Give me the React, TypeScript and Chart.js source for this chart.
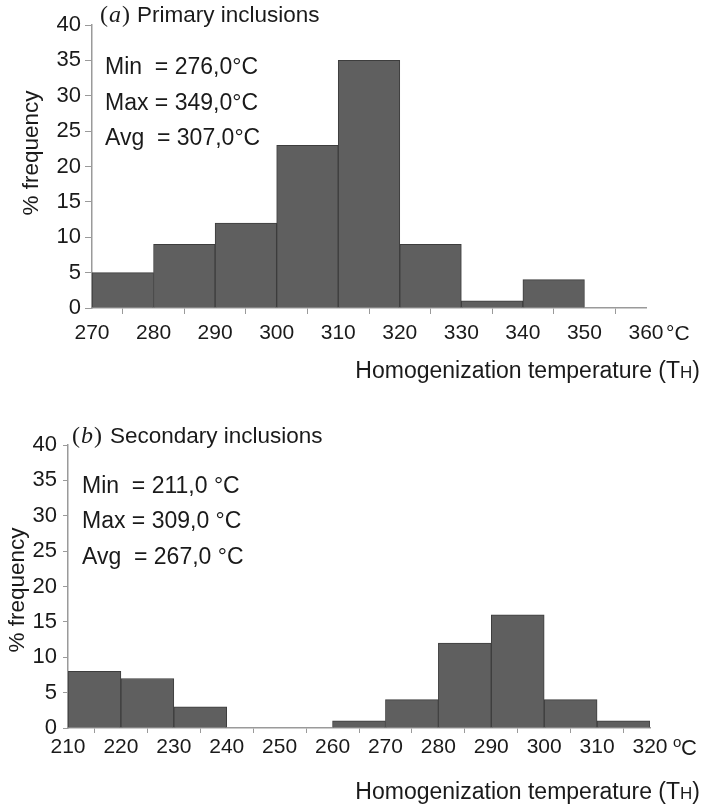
import React, { useEffect, useRef } from "react";
import { Chart, registerables } from "chart.js";

Chart.register(...registerables);

// ---- data ----
const primaryBinStarts = [270, 280, 290, 300, 310, 320, 330, 340, 350];
const primaryFrequency = [5, 9, 12, 23, 35, 9, 1, 4, 0];
const primaryXTicks = [270, 280, 290, 300, 310, 320, 330, 340, 350, 360];
const primaryStats = ["Min  = 276,0\u00B0C", "Max = 349,0\u00B0C", "Avg  = 307,0\u00B0C"];

const secondaryBinStarts = [210, 220, 230, 240, 250, 260, 270, 280, 290, 300, 310];
const secondaryFrequency = [8, 7, 3, 0, 0, 1, 4, 12, 16, 4, 1];
const secondaryXTicks = [210, 220, 230, 240, 250, 260, 270, 280, 290, 300, 310, 320];
const secondaryStats = ["Min  = 211,0 \u00B0C", "Max = 309,0 \u00B0C", "Avg  = 267,0 \u00B0C"];

const yTicks = [0, 5, 10, 15, 20, 25, 30, 35, 40];
const binWidth = 10;

const SANS = "'Liberation Sans', Arial, sans-serif";
const SERIF = "'Liberation Serif', 'Times New Roman', serif";
const TEXT = "#1a1a1a";
const AXIS = "#9a9a9a";

const W = 703;
const H = 404;

type Panel = {
  binStarts: number[];
  freq: number[];
  xTicks: number[];
  stats: string[];
  letter: string;
  title: string;
  area: { left: number; top: number; right: number; bottom: number };
  xTickLen: number;
  xTickPad: number;
  yTickLen: number;
  yTickPad: number;
  titlePos: { letterX: number; textX: number; y: number };
  statsPos: { x: number; ys: number[] };
  xTitleY: number;
  yTitlePos: { x: number; y: number };
  unitX: number;
  unitY: number;
  unitSuperscript: boolean;
};

const panels: Panel[] = [
  {
    binStarts: primaryBinStarts,
    freq: primaryFrequency,
    xTicks: primaryXTicks,
    stats: primaryStats,
    letter: "a",
    title: "Primary inclusions",
    area: { left: 92, top: 25, right: 646, bottom: 308 },
    xTickLen: 6,
    xTickPad: 7,
    yTickLen: 7,
    yTickPad: 4,
    titlePos: { letterX: 100, textX: 137, y: 16 },
    statsPos: { x: 105, ys: [68, 104, 139] },
    xTitleY: 370,
    yTitlePos: { x: 32, y: 153 },
    unitX: 666,
    unitY: 334,
    unitSuperscript: false,
  },
  {
    binStarts: secondaryBinStarts,
    freq: secondaryFrequency,
    xTicks: secondaryXTicks,
    stats: secondaryStats,
    letter: "b",
    title: "Secondary inclusions",
    area: { left: 68, top: 41, right: 650, bottom: 324 },
    xTickLen: 5,
    xTickPad: 2,
    yTickLen: 5,
    yTickPad: 6,
    titlePos: { letterX: 72, textX: 110, y: 33 },
    statsPos: { x: 82, ys: [83, 118, 154] },
    xTitleY: 387,
    yTitlePos: { x: 18, y: 186 },
    unitX: 673,
    unitY: 344,
    unitSuperscript: true,
  },
];

function textPlugin(p: Panel) {
  return {
    id: "texts",
    afterDraw(chart: any) {
      const ctx = chart.ctx as CanvasRenderingContext2D;
      ctx.save();
      ctx.fillStyle = TEXT;
      ctx.textBaseline = "middle";
      ctx.textAlign = "left";
      // panel title: upright parens, italic letter
      let tx = p.titlePos.letterX;
      ctx.font = `24px ${SERIF}`;
      ctx.fillText("(", tx, p.titlePos.y);
      tx += ctx.measureText("(").width + 1;
      ctx.font = `italic 24px ${SERIF}`;
      ctx.fillText(p.letter, tx, p.titlePos.y);
      tx += ctx.measureText(p.letter).width + 1;
      ctx.font = `24px ${SERIF}`;
      ctx.fillText(")", tx, p.titlePos.y);
      ctx.font = `22.5px ${SANS}`;
      ctx.fillText(p.title, p.titlePos.textX, p.titlePos.y);
      // stats
      ctx.font = `23px ${SANS}`;
      p.stats.forEach((s, i) => ctx.fillText(s, p.statsPos.x, p.statsPos.ys[i]));
      // x axis title with small H
      const a = "Homogenization temperature (T";
      const b = "H";
      const c = ")";
      ctx.font = `23px ${SANS}`;
      const wa = ctx.measureText(a).width;
      const wc = ctx.measureText(c).width;
      ctx.font = `17px ${SANS}`;
      const wb = ctx.measureText(b).width;
      let x = 700 - (wa + wb + wc);
      ctx.font = `23px ${SANS}`;
      ctx.textBaseline = "alphabetic";
      const base = p.xTitleY + 8;
      ctx.fillText(a, x, base);
      x += wa;
      ctx.font = `17px ${SANS}`;
      ctx.fillText(b, x, base);
      x += wb;
      ctx.font = `23px ${SANS}`;
      ctx.fillText(c, x, base);
      // unit
      if (p.unitSuperscript) {
        ctx.font = `15px ${SANS}`;
        ctx.textBaseline = "alphabetic";
        ctx.fillText("o", p.unitX, p.unitY - 1);
        ctx.font = `22px ${SANS}`;
        ctx.textBaseline = "middle";
        ctx.fillText("C", p.unitX + 8, p.unitY + 1);
      } else {
        ctx.font = `21px ${SANS}`;
        ctx.textBaseline = "middle";
        ctx.fillText("\u00B0C", p.unitX, p.unitY);
      }
      // y axis title
      ctx.translate(p.yTitlePos.x, p.yTitlePos.y);
      ctx.rotate(-Math.PI / 2);
      ctx.textAlign = "center";
      ctx.textBaseline = "middle";
      ctx.font = `22.5px ${SANS}`;
      ctx.fillText("% frequency", 0, 0);
      ctx.restore();
    },
  };
}

function HistPanel({ p }: { p: Panel }) {
  const ref = useRef<HTMLCanvasElement | null>(null);
  useEffect(() => {
    if (!ref.current) return;
    const data = p.binStarts.map((s, i) => ({ x: s + binWidth / 2, y: p.freq[i] }));
    const chart = new Chart(ref.current, {
      type: "bar",
      data: {
        datasets: [
          {
            data: data as any,
            backgroundColor: "#5f5f5f",
            borderColor: "#3d3d3d",
            borderWidth: 1,
            borderSkipped: "bottom",
            barPercentage: 1,
            categoryPercentage: 1,
          },
        ],
      },
      options: {
        responsive: false,
        animation: false,
        events: [],
        layout: {
          padding: { top: p.area.top, right: W - p.area.right, left: 0, bottom: 0 },
        },
        plugins: { legend: { display: false }, tooltip: { enabled: false }, title: { display: false } },
        scales: {
          x: {
            type: "linear",
            min: p.xTicks[0],
            max: p.xTicks[p.xTicks.length - 1],
            offset: false,
            afterBuildTicks: (scale: any) => {
              scale.ticks = p.xTicks.map((v) => ({ value: v }));
            },
            afterFit: (scale: any) => {
              scale.height = H - p.area.bottom;
            },
            grid: {
              display: true,
              drawOnChartArea: false,
              drawTicks: true,
              tickLength: p.xTickLen,
              color: AXIS,
              lineWidth: 1,
            },
            border: { display: true, color: AXIS, width: 1.5 },
            ticks: {
              autoSkip: false,
              maxRotation: 0,
              padding: p.xTickPad,
              color: TEXT,
              font: { family: SANS, size: 21 },
              callback: (v: any) => String(v),
            },
          },
          y: {
            type: "linear",
            min: yTicks[0],
            max: yTicks[yTicks.length - 1],
            afterBuildTicks: (scale: any) => {
              scale.ticks = yTicks.map((v) => ({ value: v }));
            },
            afterFit: (scale: any) => {
              scale.width = p.area.left;
            },
            grid: {
              display: true,
              drawOnChartArea: false,
              drawTicks: true,
              tickLength: p.yTickLen,
              color: AXIS,
              lineWidth: 1,
            },
            border: { display: true, color: AXIS, width: 1.5 },
            ticks: {
              autoSkip: false,
              padding: p.yTickPad,
              color: TEXT,
              font: { family: SANS, size: 22 },
              callback: (v: any) => String(v),
            },
          },
        },
      },
      plugins: [textPlugin(p)],
    } as any);
    return () => chart.destroy();
  }, [p]);
  return <canvas ref={ref} width={W} height={H} style={{ display: "block", width: W, height: H }} />;
}

export default function App() {
  return (
    <div style={{ position: "absolute", left: 0, top: 0, width: W, height: 808, background: "#fff" }}>
      <HistPanel p={panels[0]} />
      <HistPanel p={panels[1]} />
    </div>
  );
}
